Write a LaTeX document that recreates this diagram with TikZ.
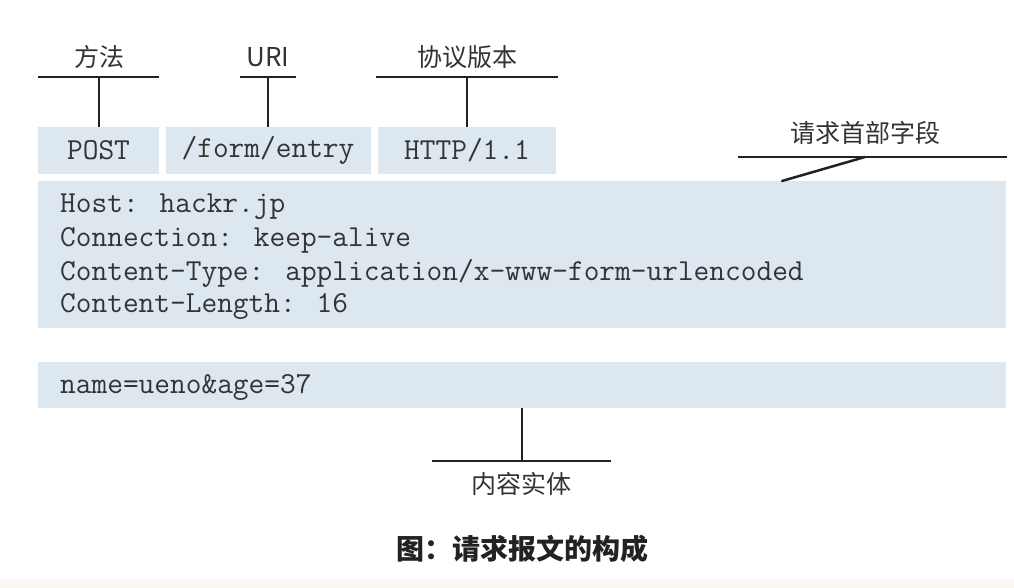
\documentclass[tikz,border=0pt]{standalone}
\usepackage{fontspec}
\newfontfamily\cjk{Noto Sans CJK SC}
\definecolor{boxfill}{HTML}{DDE7F0}
\definecolor{ink}{HTML}{222222}
\definecolor{txt}{HTML}{333333}
\definecolor{strip}{HTML}{FAF8F1}
\begin{document}
\begin{tikzpicture}[x=1pt,y=-1pt,
  box/.style={fill=boxfill, draw=none, inner sep=0pt, font=\fontsize{30.5}{33}\selectfont\ttfamily, text=txt},
  lbl/.style={inner sep=0pt, font=\cjk\fontsize{25}{30}\selectfont, text=txt},
  brk/.style={draw=ink, line width=2.5pt},
  row/.style={anchor=west, inner sep=0pt, font=\fontsize{30.5}{33}\selectfont\ttfamily, text=txt}]
\useasboundingbox (0,0) rectangle (1014,588);
\fill[strip] (0,579) rectangle (1014,588);
% request line boxes
\node[box, minimum width=121, minimum height=47] (post) at (98.5,150.5) {POST};
\node[box, minimum width=205, minimum height=47] (uri) at (268,150.5) {/form/entry};
\node[box, minimum width=178, minimum height=47] (ver) at (467,150.5) {HTTP/1.1};
% header box
\node[box, minimum width=968, minimum height=147] (hdr) at (522,254.5) {};
\node[row] (h1) at (60,207) {Host: hackr.jp};
\node[row] (h2) at (60,240) {Connection: keep-alive};
\node[row] (h3) at (60,273) {Content-Type: application/x-www-form-urlencoded};
\node[row] (h4) at (60,306) {Content-Length: 16};
% body box
\node[box, minimum width=968, minimum height=46] (body) at (522,385) {};
\node[row] (b1) at (60,387) {name=ueno\&age=37};
% labels
\node[lbl] (lmethod) at (99,57) {方法};
\node[lbl, font=\cjk\fontsize{26}{30}\selectfont] (luri) at (268,57) {URI};
\node[lbl] (lver) at (467,57) {协议版本};
\node[lbl] (lhdr) at (865,133) {请求首部字段};
\node[lbl] (lbody) at (521,484) {内容实体};
\node[inner sep=0pt, font=\cjk\bfseries\fontsize{28}{32}\selectfont, text=ink] (cap) at (522,549) {图：请求报文的构成};
% bracket coordinates
\coordinate (m1) at (38,77); \coordinate (m2) at (159,77); \coordinate (mm) at (99,77);
\coordinate (u1) at (240,77); \coordinate (u2) at (296,77); \coordinate (um) at (268,77);
\coordinate (v1) at (376,77); \coordinate (v2) at (558,77); \coordinate (vm) at (467,77);
\coordinate (r1) at (738,157); \coordinate (r2) at (1007,157); \coordinate (rm) at (865,157);
\coordinate (rt) at (782,181);
\coordinate (e1) at (432,461); \coordinate (e2) at (611,461); \coordinate (em) at (522,461);
\draw[brk] (m1) -- (m2); \draw[brk] (mm) -- (mm |- post.north);
\draw[brk] (u1) -- (u2); \draw[brk] (um) -- (um |- uri.north);
\draw[brk] (v1) -- (v2); \draw[brk] (vm) -- (vm |- ver.north);
\draw[brk] (r1) -- (r2); \draw[brk, line cap=round] (rm) -- (rt);
\draw[brk] (e1) -- (e2); \draw[brk] (em) -- (em |- body.south);
\end{tikzpicture}
\end{document}
